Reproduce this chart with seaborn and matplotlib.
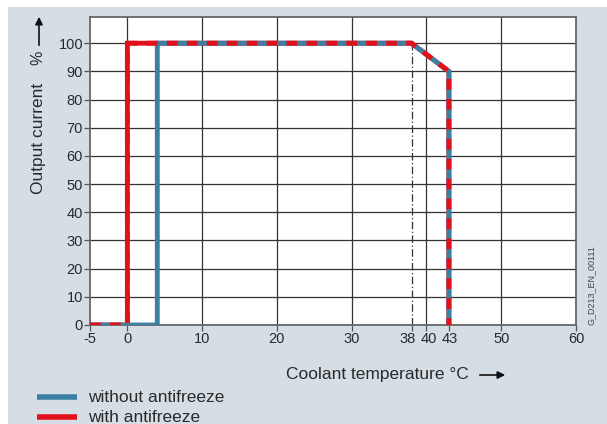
import numpy as np
import pandas as pd
import matplotlib
matplotlib.use("Agg")
import matplotlib.pyplot as plt
import matplotlib.transforms as mtransforms
from matplotlib.lines import Line2D
from matplotlib.patches import Rectangle
import seaborn as sns

# Data
temp_without = [-5, 4, 4, 38, 43, 43]
current_without = [0, 0, 100, 100, 90, 0]
temp_with = [-5, 0, 0, 38, 43, 43]
current_with = [0, 0, 100, 100, 90, 0]

x_ticks = [-5, 0, 10, 20, 30, 38, 40, 43, 50, 60]
y_ticks = list(range(0, 101, 10))
grid_x = [0, 10, 20, 30, 40, 50]
derating_start = 38

BLUE = '#3b7fa3'
RED = '#e2101b'
BG = '#d5dee5'
TXT = '#2a2a2a'

sns.set_theme(style="white")
plt.rcParams['font.family'] = ['Liberation Sans', 'DejaVu Sans']
plt.rcParams['axes.unicode_minus'] = False

fig = plt.figure(figsize=(6.07, 4.24), dpi=100)
fig.patch.set_facecolor('white')
fig.add_artist(Rectangle((8 / 607, 0), 1, 1 - 7 / 424, transform=fig.transFigure,
                         facecolor=BG, edgecolor='none', zorder=-10))

ax = fig.add_axes([90 / 607, 1 - 325 / 424, (576 - 90) / 607, (325 - 17) / 424])
ax.set_facecolor('white')

# grid
for gx in grid_x:
    ax.axvline(gx, color='#333333', lw=0.9, zorder=1)
for gy in y_ticks[1:]:
    ax.axhline(gy, color='#333333', lw=0.9, zorder=1)
ax.plot([derating_start, derating_start], [0, 100], color='#333333', lw=0.9,
        linestyle=(0, (6, 2, 1, 2)), zorder=1)

lw = 3.5
df_without = pd.DataFrame({'temp': temp_without, 'current': current_without})
df_with = pd.DataFrame({'temp': temp_with, 'current': current_with})

# red solid underneath, blue on top, red dashes over the shared path
sns.lineplot(data=df_with, x='temp', y='current', sort=False, estimator=None, ax=ax,
             color=RED, lw=lw, solid_joinstyle='miter', solid_capstyle='butt', zorder=3)
sns.lineplot(data=df_without, x='temp', y='current', sort=False, estimator=None, ax=ax,
             color=BLUE, lw=lw, solid_joinstyle='miter', solid_capstyle='butt', zorder=4)
sns.lineplot(data=df_with, x='temp', y='current', sort=False, estimator=None, ax=ax,
             color=RED, lw=lw, linestyle=(0, (2.2, 1.9)), dash_capstyle='butt', zorder=5)

ax.set_xlim(-5, 60)
ax.set_ylim(0, 109.3)
ax.set_xticks(x_ticks)
ax.set_yticks(y_ticks)
ax.set_xlabel('')
ax.set_ylabel('')
ax.tick_params(axis='both', which='both', length=4, width=0.9, color='#555555',
               labelsize=10.5, labelcolor=TXT, pad=1, direction='out')
ax.tick_params(left=True, bottom=True)
for sp in ax.spines.values():
    sp.set_color('#666666')
    sp.set_linewidth(1.3)

# nudge the crowded 38 / 40 / 43 labels apart
shifts = {38: -4, 40: 2, 43: 1}
for val, lab in zip(x_ticks, ax.get_xticklabels()):
    if val in shifts:
        lab.set_transform(lab.get_transform() +
                          mtransforms.ScaledTranslation(shifts[val] / 100, 0, fig.dpi_scale_trans))

# axis labels with arrows
fig.text(377 / 607, 1 - 375 / 424, 'Coolant temperature °C', ha='center', va='center',
         fontsize=12.5, color=TXT)
fig.add_artist(plt.Annotation('', xy=(508 / 607, 1 - 375 / 424), xytext=(477 / 607, 1 - 375 / 424),
                              xycoords='figure fraction', textcoords='figure fraction',
                              arrowprops=dict(arrowstyle='-|>', color='#111111', lw=1.2,
                                              mutation_scale=11)))
fig.text(38 / 607, 1 - 138 / 424, 'Output current', rotation=90, ha='center', va='center',
         fontsize=12.5, color=TXT)
fig.text(38 / 607, 1 - 58 / 424, '%', rotation=90, ha='center', va='center',
         fontsize=11.5, color=TXT)
fig.add_artist(plt.Annotation('', xy=(39 / 607, 1 - 14 / 424), xytext=(39 / 607, 1 - 48 / 424),
                              xycoords='figure fraction', textcoords='figure fraction',
                              arrowprops=dict(arrowstyle='-|>', color='#111111', lw=1.2,
                                              mutation_scale=11)))

fig.text(591 / 607, 1 - 325 / 424, 'G_D213_EN_00111', rotation=90, ha='center', va='bottom',
         fontsize=6.5, color='#444444')

# legend
for yy, col, lab in [(397, BLUE, 'without antifreeze'), (417, RED, 'with antifreeze')]:
    fig.add_artist(Line2D([37 / 607, 77 / 607], [1 - yy / 424, 1 - yy / 424],
                          transform=fig.transFigure, color=col, lw=4, solid_capstyle='butt'))
    fig.text(88 / 607, 1 - yy / 424, lab, ha='left', va='center', fontsize=12.5, color=TXT)

fig.savefig('out.png', dpi=100, facecolor=fig.get_facecolor())
